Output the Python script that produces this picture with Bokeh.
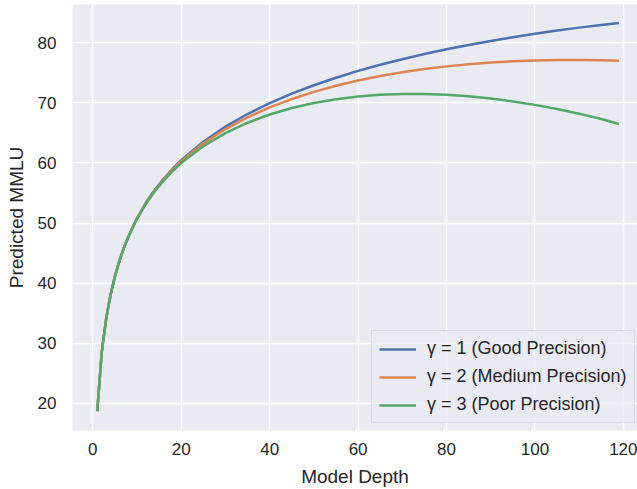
from bokeh.plotting import figure
from bokeh.models import Range1d, Legend, LegendItem
from bokeh.embed import file_html
from bokeh.resources import INLINE

depth = [1, 2, 3, 4, 5, 6, 7, 8, 10, 12, 14, 16, 18, 20, 25, 30, 35, 40, 45, 50,
         55, 60, 65, 70, 75, 80, 85, 90, 95, 100, 105, 110, 115, 119]
good = [18.70, 28.38, 34.04, 38.05, 41.17, 43.70, 45.85, 47.72, 50.83, 53.37, 55.51,
        57.37, 59.00, 60.46, 63.54, 66.05, 68.15, 69.96, 71.54, 72.94, 74.19, 75.33,
        76.34, 77.28, 78.14, 78.92, 79.65, 80.32, 80.93, 81.51, 82.04, 82.53, 82.98, 83.32]
medium = [18.70, 28.38, 34.03, 38.04, 41.16, 43.69, 45.83, 47.69, 50.78, 53.30, 55.42,
          57.26, 58.86, 60.28, 63.27, 65.65, 67.60, 69.25, 70.64, 71.83, 72.85, 73.73,
          74.47, 75.11, 75.64, 76.08, 76.44, 76.72, 76.93, 77.07, 77.14, 77.16, 77.11, 77.00]
poor = [18.70, 28.37, 34.03, 38.03, 41.14, 43.66, 45.79, 47.64, 50.71, 53.20, 55.28,
        57.07, 58.62, 59.99, 62.81, 64.98, 66.70, 68.07, 69.14, 69.98, 70.61, 71.06,
        71.34, 71.48, 71.48, 71.35, 71.10, 70.73, 70.24, 69.67, 68.99, 68.21, 67.33, 66.50]
labels = ["γ = 1 (Good Precision)", "γ = 2 (Medium Precision)", "γ = 3 (Poor Precision)"]
colors = ["#4C72B0", "#DD8452", "#55A868"]
x_ticks = [0, 20, 40, 60, 80, 100, 120]
y_ticks = [20, 30, 40, 50, 60, 70, 80]

FONT = "Liberation Sans"
TXT = "#262626"

p = figure(width=637, height=489, output_backend="svg", toolbar_location=None,
           x_range=Range1d(-4.6, 123.2), y_range=Range1d(15.47, 86.38),
           min_border_left=72, min_border_right=0, min_border_top=4,
           min_border_bottom=59)
p.background_fill_color = "#EAEAF2"
p.border_fill_color = "white"
p.outline_line_color = None

for g in (p.xgrid, p.ygrid):
    g.grid_line_color = "white"
    g.grid_line_width = 1.5

for ax in (p.xaxis, p.yaxis):
    ax.axis_line_color = None
    ax.major_tick_line_color = None
    ax.minor_tick_line_color = None
    ax.major_tick_out = 0
    ax.major_tick_in = 0
    ax.major_label_text_font = FONT
    ax.major_label_text_font_size = "17px"
    ax.major_label_text_color = TXT
    ax.axis_label_text_font = FONT
    ax.axis_label_text_font_size = "19px"
    ax.axis_label_text_font_style = "normal"
    ax.axis_label_text_color = TXT

p.xaxis.ticker = x_ticks
p.yaxis.ticker = y_ticks
p.xaxis.axis_label = "Model Depth"
p.yaxis.axis_label = "Predicted MMLU"
p.xaxis.major_label_standoff = 12
p.yaxis.major_label_standoff = 16
p.xaxis.axis_label_standoff = 8
p.yaxis.axis_label_standoff = 8

items = []
for ys, lab, c in zip([good, medium, poor], labels, colors):
    r = p.line(depth, ys, line_color=c, line_width=2.5)
    items.append(LegendItem(label=lab, renderers=[r]))

legend = Legend(items=items, location=(299, 7))
legend.label_text_font = FONT
legend.label_text_font_size = "18px"
legend.label_text_color = TXT
legend.background_fill_color = "#EAEAF2"
legend.background_fill_alpha = 0.8
legend.border_line_color = "#CCCCCC"
legend.border_line_width = 1
legend.glyph_width = 37
legend.glyph_height = 20
legend.label_height = 20
legend.label_standoff = 11
legend.spacing = 7
legend.padding = 7
legend.margin = 0
p.add_layout(legend)

open("out.html", "w").write(file_html(p, INLINE))
